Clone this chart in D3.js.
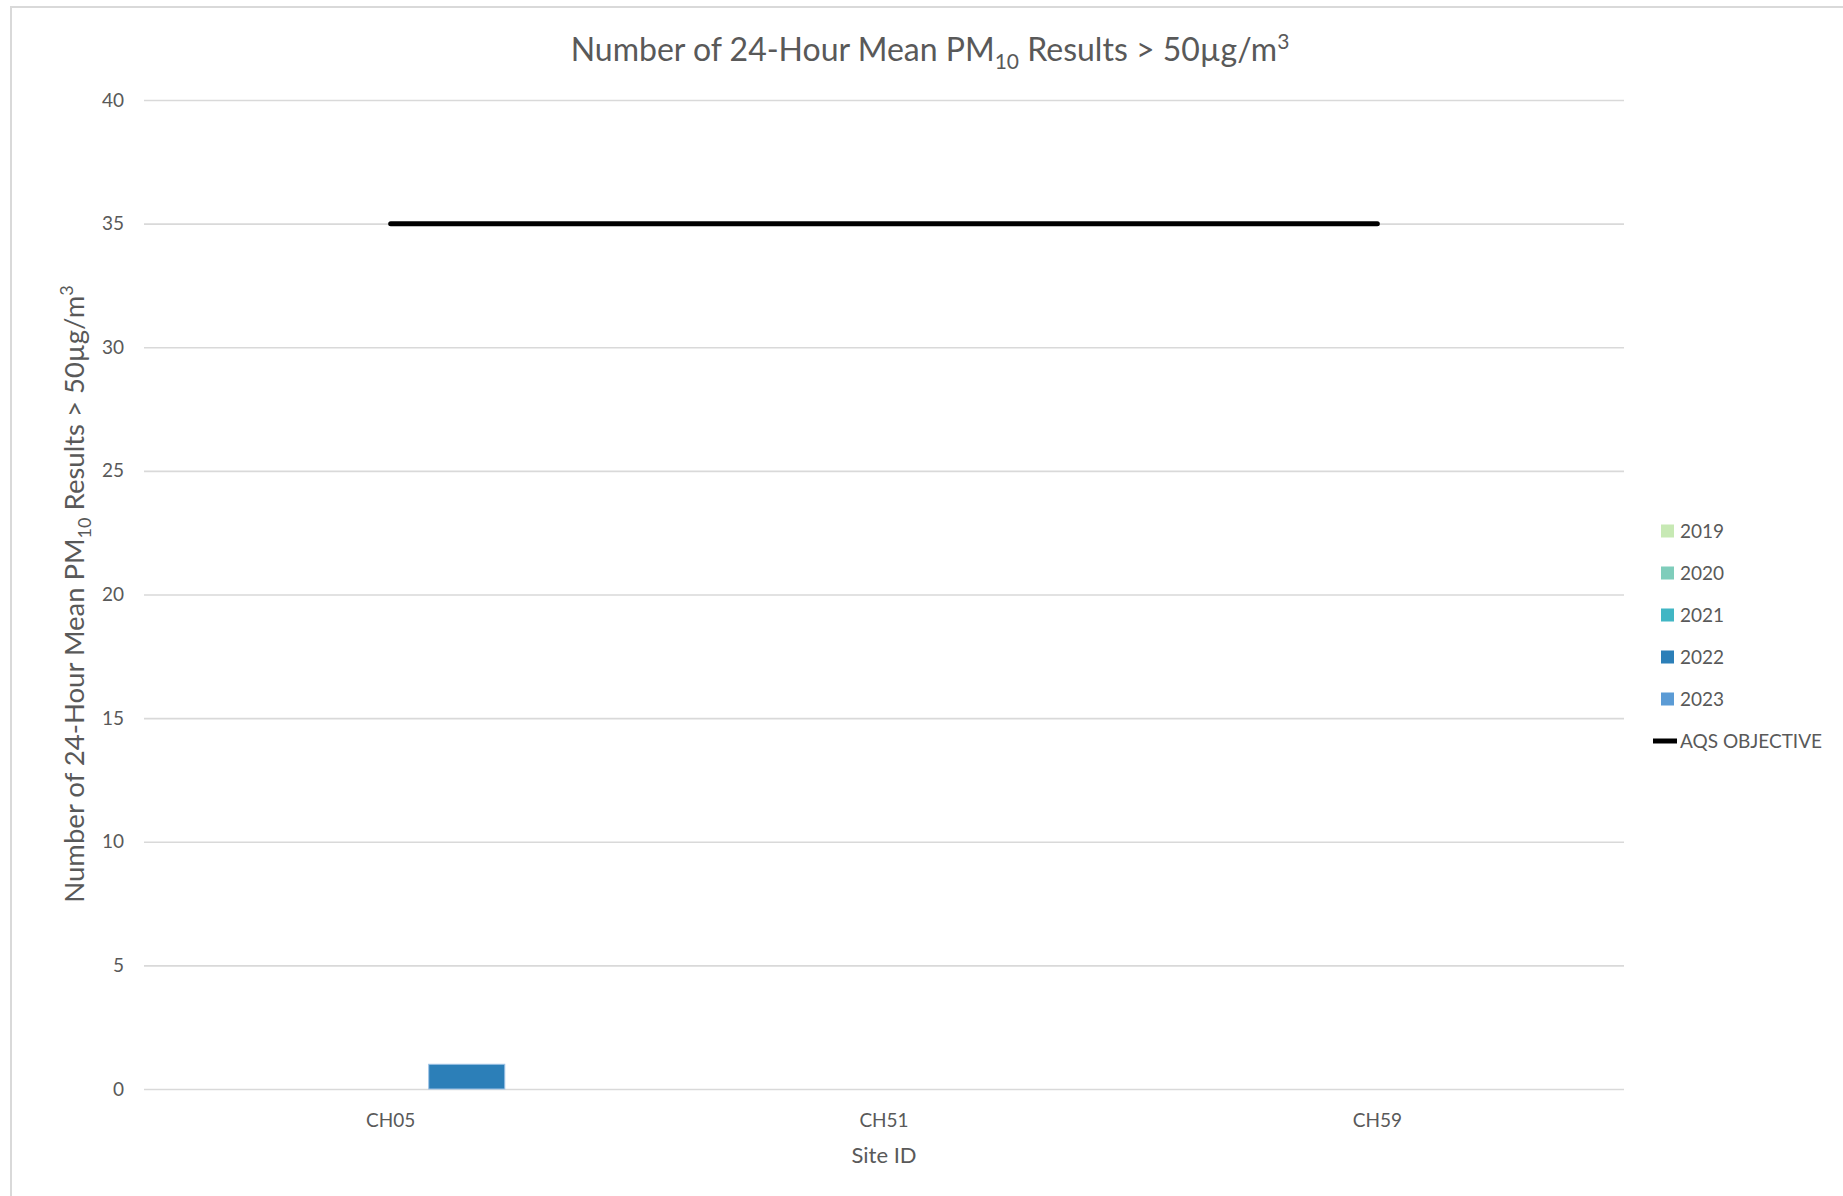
<!DOCTYPE html>
<html>
<head>
<meta charset="utf-8">
<script src="https://cdn.jsdelivr.net/npm/d3@7"></script>
<style>
  body { margin: 0; background: #fff; }
  svg text { font-family: Lato, "Open Sans", sans-serif; fill: #595959; }
</style>
</head>
<body>
<svg id="chart" width="1843" height="1196"></svg>
<script>
// chart values
var sites = ["CH05", "CH51", "CH59"];
var years = ["2019", "2020", "2021", "2022", "2023"];
var values2019 = [0, 0, 0];
var values2020 = [0, 0, 0];
var values2021 = [0, 0, 0];
var values2022 = [1, 0, 0];
var values2023 = [0, 0, 0];
var objective = [35, 35, 35];
var yTicks = [0, 5, 10, 15, 20, 25, 30, 35, 40];
var yearColors = ["#c7e9b4", "#7fcdbb", "#41b6c4", "#2c7fb8", "#5b9bd5"];

var series = [values2019, values2020, values2021, values2022, values2023];

var svg = d3.select("#chart");

// outer chart border
svg.append("rect")
    .attr("x", 11).attr("y", 7)
    .attr("width", 1900).attr("height", 1300)
    .attr("fill", "none")
    .attr("stroke", "#d9d9d9")
    .attr("stroke-width", 2);

var plotLeft = 144, plotRight = 1624, plotTop = 100, plotBottom = 1089;

var y = d3.scaleLinear().domain([0, 40]).range([plotBottom, plotTop]);
var x0 = d3.scaleBand().domain(sites).range([plotLeft, plotRight]).paddingInner(0.229).paddingOuter(0.1145);
var x1 = d3.scaleBand().domain(years).range([0, x0.bandwidth()]);
var color = d3.scaleOrdinal().domain(years).range(yearColors);

// gridlines
var yAxis = d3.axisLeft(y).tickValues(yTicks).tickSize(-(plotRight - plotLeft)).tickPadding(20);
var gy = svg.append("g").attr("transform", "translate(" + plotLeft + ",0)").call(yAxis);
gy.select(".domain").remove();
gy.selectAll(".tick line").attr("stroke", "#d9d9d9").attr("stroke-width", 1.6);
gy.selectAll(".tick text")
    .style("font-size", "19px")
    .attr("fill", "#595959");

// x axis labels
var xAxis = d3.axisBottom(x0).tickSize(0).tickPadding(25);
var gx = svg.append("g").attr("transform", "translate(0," + plotBottom + ")").call(xAxis);
gx.select(".domain").remove();
gx.selectAll(".tick text").style("font-size", "19px").attr("fill", "#595959");

// bars
var barData = [];
for (var s = 0; s < series.length; s++) {
    for (var i = 0; i < sites.length; i++) {
        barData.push({site: sites[i], year: years[s], value: series[s][i]});
    }
}
svg.append("g").selectAll("rect")
    .data(barData.filter(function(d) { return d.value > 0; }))
    .enter().append("rect")
    .attr("x", function(d) { return x0(d.site) + x1(d.year); })
    .attr("y", function(d) { return y(d.value); })
    .attr("width", x1.bandwidth())
    .attr("height", function(d) { return y(0) - y(d.value); })
    .attr("fill", function(d) { return color(d.year); })
    .attr("stroke", "#9dc3e6")
    .attr("stroke-width", 1);

// AQS objective line
var line = d3.line()
    .x(function(d, i) { return x0(sites[i]) + x0.bandwidth() / 2; })
    .y(function(d) { return y(d); });
svg.append("path")
    .datum(objective)
    .attr("d", line)
    .attr("fill", "none")
    .attr("stroke", "#000")
    .attr("stroke-width", 5)
    .attr("stroke-linecap", "round");

// title
var title = svg.append("text")
    .attr("x", 930).attr("y", 61)
    .attr("text-anchor", "middle")
    .style("font-size", "32px");
title.append("tspan").text("Number of 24-Hour Mean PM");
title.append("tspan").attr("dy", 8).style("font-size", "21px").text("10");
title.append("tspan").attr("dy", -8).text(" Results > 50µg/m");
title.append("tspan").attr("dy", -12).style("font-size", "21px").text("3");

// y axis title
var ytitle = svg.append("text")
    .attr("transform", "translate(84,594) rotate(-90)")
    .attr("text-anchor", "middle")
    .style("font-size", "27.5px");
ytitle.append("tspan").text("Number of 24-Hour Mean PM");
ytitle.append("tspan").attr("dy", 7).style("font-size", "18px").text("10");
ytitle.append("tspan").attr("dy", -7).text(" Results > 50µg/m");
ytitle.append("tspan").attr("dy", -11).style("font-size", "18px").text("3");

// x axis title
svg.append("text")
    .attr("x", 884).attr("y", 1163)
    .attr("text-anchor", "middle")
    .style("font-size", "22px")
    .text("Site ID");

// legend
var legend = svg.append("g").attr("transform", "translate(1661,0)");
var rows = legend.selectAll("g.item")
    .data(years)
    .enter().append("g")
    .attr("class", "item")
    .attr("transform", function(d, i) { return "translate(0," + (531 + i * 42) + ")"; });
rows.append("rect")
    .attr("x", 0).attr("y", -6.5)
    .attr("width", 13).attr("height", 13)
    .attr("fill", function(d) { return color(d); });
rows.append("text")
    .attr("x", 19).attr("y", 7)
    .style("font-size", "19px")
    .text(function(d) { return d; });

var aqs = legend.append("g").attr("transform", "translate(0," + (531 + 5 * 42) + ")");
aqs.append("line")
    .attr("x1", -8).attr("x2", 16)
    .attr("y1", 0).attr("y2", 0)
    .attr("stroke", "#000").attr("stroke-width", 5);
aqs.append("text")
    .attr("x", 19).attr("y", 7)
    .style("font-size", "19px")
    .text("AQS OBJECTIVE");
</script>
</body>
</html>
